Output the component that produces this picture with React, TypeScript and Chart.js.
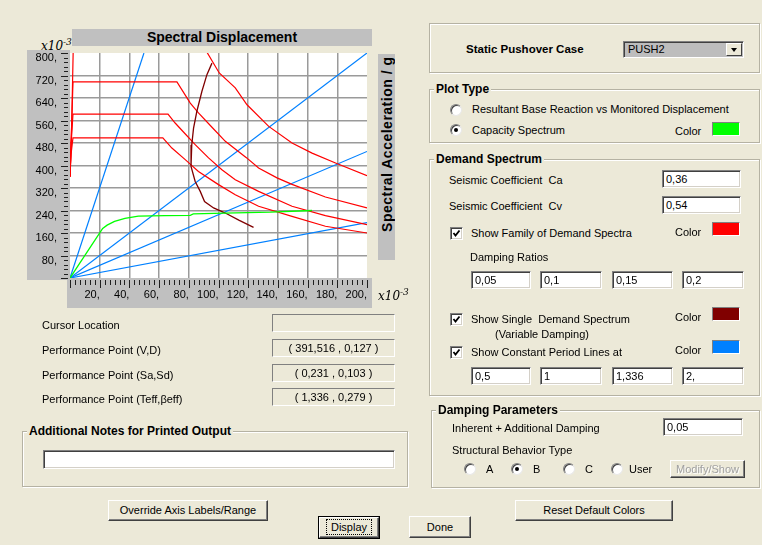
import React, { useEffect, useRef } from "react";
import { Chart, registerables } from "chart.js";

Chart.register(...registerables);

// ---------------- data (Sd and Sa in x10^-3) ----------------
const sdTicks = [0, 20, 40, 60, 80, 100, 120, 140, 160, 180, 200];
const saTicks = [0, 80, 160, 240, 320, 400, 480, 560, 640, 720, 800];

const capacitySd = [0, 22, 25, 30, 37, 46, 64, 81, 83, 104, 135, 163];
const capacitySa = [0, 176, 188, 201, 212, 220, 222, 223, 228, 231, 234, 240];

const demand05Sd = [0, 1.2, 2.5, 81.5, 92.2, 100.5, 111.3, 119.2, 133.8, 149.5, 163, 178.8, 200];
const demand05Sa = [360, 560, 900, 900, 803, 729, 676, 616, 539, 480, 444, 409, 364];

const demand10Sd = [0, 1.0, 2, 72, 81, 86.5, 95.6, 104.6, 119, 127, 139.4, 149.5, 172, 200];
const demand10Sa = [360, 520, 697, 697, 622, 587, 536, 486, 427, 391, 356, 333, 288, 249];

const demand15Sd = [0, 0.8, 2, 66, 70.8, 76.4, 84.3, 93.3, 102.3, 111.3, 127, 149.5, 172, 200];
const demand15Sa = [360, 480, 583, 583, 551, 519, 474, 427, 385, 349, 308, 255, 222, 190];

const demand20Sd = [0, 0.7, 2, 62.5, 68.6, 77.6, 86.5, 100, 111.3, 127, 149.5, 172, 200];
const demand20Sa = [360, 440, 498, 498, 462, 421, 379, 332, 296, 255, 219, 184, 160];

const singleDemandSd = [95.6, 92.2, 88.8, 85.4, 83.2, 82, 81.5, 84.3, 87.7, 90.6, 96.7, 104.6, 114, 123.6];
const singleDemandSa = [764, 723, 663, 592, 533, 474, 397, 343, 308, 272, 249, 231, 205, 180];

const periodNames = ["0,5", "1", "1,336", "2,"];
const periodEndSd = [49.8, 200, 200, 200];
const periodEndSa = [800, 800, 450, 197];

// ---------------- styles ----------------
const BG = "#ECE9D8";
const FONT = '"Liberation Sans", Arial, Helvetica, sans-serif';
const RED = "#FF0000";
const MAROON = "#800000";
const BLUE = "#0080FF";
const GREEN = "#00FF00";

const zip = (xs: number[], ys: number[]) => xs.map((x, i) => ({ x, y: ys[i] }));

const bandsPlugin = {
  id: "bands",
  beforeDraw(chart: any) {
    const { ctx, chartArea: a } = chart;
    ctx.save();
    ctx.fillStyle = "#C0C0C0";
    ctx.fillRect(a.left - 43, a.top - 3, 43, a.bottom - a.top + 5);
    ctx.fillRect(a.left - 3, a.bottom, a.right - a.left + 8, 30);
    ctx.fillStyle = "#FFFFFF";
    ctx.fillRect(a.left, a.top, a.right - a.left, a.bottom - a.top);
    ctx.restore();
  },
  afterDraw(chart: any) {
    const { ctx, chartArea: a, scales } = chart;
    const xs = scales.x;
    const ys = scales.y;
    ctx.save();
    ctx.strokeStyle = "#202020";
    ctx.lineWidth = 1;
    ctx.beginPath();
    for (let i = 0; i <= 50; i++) {
      const v = i * 16;
      const py = Math.round(ys.getPixelForValue(v)) + 0.5;
      const len = i % 5 === 0 ? 7 : 4;
      ctx.moveTo(a.left - 2 - len, py);
      ctx.lineTo(a.left - 2, py);
    }
    for (let i = 0; i <= 60; i++) {
      const v = (i * 20) / 6;
      const px = Math.round(xs.getPixelForValue(v)) + 0.5;
      const len = i % 6 === 0 ? 8 : 5;
      ctx.moveTo(px, a.bottom + 2);
      ctx.lineTo(px, a.bottom + 2 + len);
    }
    ctx.stroke();
    ctx.restore();
  },
};

function SpectrumChart() {
  const ref = useRef<HTMLCanvasElement | null>(null);
  useEffect(() => {
    if (!ref.current) return;
    const line = (data: any[], color: string, width = 1.2) => ({
      data,
      showLine: true,
      borderColor: color,
      backgroundColor: color,
      borderWidth: width,
      pointRadius: 0,
      fill: false,
      tension: 0,
    });
    const datasets: any[] = [
      line(zip(capacitySd, capacitySa), GREEN, 1.3),
      line(zip(singleDemandSd, singleDemandSa), MAROON, 1.3),
      line(zip(demand05Sd, demand05Sa), RED),
      line(zip(demand10Sd, demand10Sa), RED),
      line(zip(demand15Sd, demand15Sa), RED),
      line(zip(demand20Sd, demand20Sa), RED),
      ...periodNames.map((_, i) =>
        line([{ x: 0, y: 0 }, { x: periodEndSd[i], y: periodEndSa[i] }], BLUE)
      ),
    ];
    const gridColor = (max: number) => (c: any) =>
      c.tick && (c.tick.value === 0 || c.tick.value === max) ? "rgba(0,0,0,0)" : "#9A9A9A";
    const chart = new Chart(ref.current, {
      type: "scatter",
      data: { datasets },
      plugins: [bandsPlugin],
      options: {
        animation: false,
        responsive: false,
        maintainAspectRatio: false,
        events: [],
        layout: { padding: { left: 0, top: 28, right: 43, bottom: 12 } },
        plugins: { legend: { display: false }, tooltip: { enabled: false }, title: { display: false } },
        scales: {
          x: {
            type: "linear",
            min: 0,
            max: 200,
            position: "bottom",
            afterBuildTicks: (s: any) => {
              s.ticks = sdTicks.map((v) => ({ value: v }));
            },
            afterFit: (s: any) => {
              s.height = 30;
            },
            border: { display: false },
            grid: { color: gridColor(200), lineWidth: 1.5, drawTicks: false },
            ticks: {
              autoSkip: false,
              maxRotation: 0,
              align: "end",
              padding: 10,
              color: "#000",
              font: { family: FONT, size: 11 },
              callback: (v: any) => (Number(v) === 0 ? "" : v + ","),
            },
          },
          y: {
            type: "linear",
            min: 0,
            max: 800,
            afterBuildTicks: (s: any) => {
              s.ticks = saTicks.map((v) => ({ value: v }));
            },
            afterFit: (s: any) => {
              s.width = 50;
            },
            border: { display: false },
            grid: { color: gridColor(800), lineWidth: 1.5, drawTicks: false },
            ticks: {
              autoSkip: false,
              padding: 13,
              labelOffset: 5,
              color: "#000",
              font: { family: FONT, size: 11 },
              callback: (v: any) => (Number(v) === 0 ? "" : v + ","),
            },
          },
        },
      } as any,
    });
    return () => chart.destroy();
  }, []);
  return (
    <canvas
      ref={ref}
      width={390}
      height={295}
      style={{ position: "absolute", left: 20, top: 25, width: 390, height: 295 }}
    />
  );
}

// ---------------- dialog widgets ----------------
const P = (l: number, t: number, w?: number, h?: number): React.CSSProperties => ({
  position: "absolute",
  left: l,
  top: t,
  width: w,
  height: h,
  boxSizing: "border-box",
});

function Label({ x, cy, text, bold = false, size = 11, color = "#000" }: any) {
  return (
    <div
      style={{
        ...P(x, cy - 8),
        height: 16,
        lineHeight: "16px",
        fontSize: size,
        fontWeight: bold ? 700 : 400,
        color,
        whiteSpace: "pre",
      }}
    >
      {text}
    </div>
  );
}

function Field({ x, y, w, h, value, bg = "#fff", center = false, deep = true }: any) {
  return (
    <div
      style={{
        ...P(x, y, w, h),
        background: bg,
        borderTop: "1px solid #808080",
        borderLeft: "1px solid #808080",
        borderRight: "1px solid #fff",
        borderBottom: "1px solid #fff",
        boxShadow: deep ? "inset 1px 1px 0 #404040, inset -1px -1px 0 #D4D0C8" : "none",
        fontSize: 11,
        lineHeight: h - 2 + "px",
        paddingLeft: center ? 0 : 3,
        textAlign: center ? "center" : "left",
        whiteSpace: "pre",
        overflow: "hidden",
      }}
    >
      {value}
    </div>
  );
}

function Group({ x, y, w, h, title, size = 12 }: any) {
  return (
    <>
      <div
        style={{
          ...P(x, y, w, h),
          border: "1px solid #B5B2A3",
          boxShadow: "inset 1px 1px 0 #fff, 1px 1px 0 #fff",
        }}
      />
      {title && (
        <div
          style={{
            ...P(x + 5, y - 8),
            height: 16,
            lineHeight: "16px",
            padding: "0 2px",
            background: BG,
            fontWeight: 700,
            fontSize: size,
            whiteSpace: "nowrap",
          }}
        >
          {title}
        </div>
      )}
    </>
  );
}

function Radio({ cx, cy, checked = false }: any) {
  return (
    <div
      style={{
        ...P(cx - 6, cy - 6, 12, 12),
        borderRadius: "50%",
        background: "#fff",
        border: "1px solid",
        borderColor: "#808080 #E8E8E8 #E8E8E8 #808080",
        boxShadow: "inset 1px 1px 0 #404040",
      }}
    >
      {checked && (
        <div style={{ ...P(3, 3, 4, 4), borderRadius: "50%", background: "#000" }} />
      )}
    </div>
  );
}

function Check({ cx, cy }: any) {
  return (
    <div
      style={{
        ...P(cx - 6.5, cy - 6.5, 13, 13),
        background: "#fff",
        borderTop: "1px solid #808080",
        borderLeft: "1px solid #808080",
        borderRight: "1px solid #fff",
        borderBottom: "1px solid #fff",
        boxShadow: "inset 1px 1px 0 #404040, inset -1px -1px 0 #D4D0C8",
      }}
    >
      <svg width={11} height={11} style={{ position: "absolute", left: 0, top: 0 }}>
        <path d="M2.5 5 L4.5 7.5 L8.5 2.5" stroke="#000" strokeWidth={1.8} fill="none" />
      </svg>
    </div>
  );
}

function Swatch({ x, y, color }: any) {
  return (
    <div
      style={{
        ...P(x, y, 28, 14),
        background: color,
        borderTop: "1px solid #808080",
        borderLeft: "1px solid #808080",
        borderRight: "1px solid #fff",
        borderBottom: "1px solid #fff",
      }}
    />
  );
}

function Button({ x, y, w, h, label, disabled = false, isDefault = false }: any) {
  const inner = (
    <div
      style={{
        ...P(isDefault ? 1 : 0, isDefault ? 1 : 0, isDefault ? w - 2 : w, isDefault ? h - 2 : h),
        background: BG,
        borderTop: "1px solid #fff",
        borderLeft: "1px solid #fff",
        borderRight: "1px solid #404040",
        borderBottom: "1px solid #404040",
        boxShadow: "inset -1px -1px 0 #808080",
        textAlign: "center",
        fontSize: 11,
        lineHeight: (isDefault ? h - 4 : h - 2) + "px",
        color: disabled ? "#A0A0A0" : "#000",
        textShadow: disabled ? "1px 1px 0 #fff" : "none",
        whiteSpace: "nowrap",
      }}
    >
      {isDefault ? (
        <span style={{ outline: "1px dotted #000", outlineOffset: 1, padding: "0 3px" }}>{label}</span>
      ) : (
        label
      )}
    </div>
  );
  return (
    <div style={{ ...P(x, y, w, h), background: isDefault ? "#000" : "transparent" }}>{inner}</div>
  );
}

function Combo({ x, y, w, h, value }: any) {
  return (
    <div
      style={{
        ...P(x, y, w, h),
        background: "#BDBDBD",
        borderTop: "1px solid #808080",
        borderLeft: "1px solid #808080",
        borderRight: "1px solid #fff",
        borderBottom: "1px solid #fff",
        boxShadow: "inset 1px 1px 0 #404040",
        fontSize: 11,
        lineHeight: h - 2 + "px",
        paddingLeft: 4,
      }}
    >
      {value}
      <div
        style={{
          ...P(w - 19, 1, 16, h - 4),
          background: BG,
          borderTop: "1px solid #fff",
          borderLeft: "1px solid #fff",
          borderRight: "1px solid #404040",
          borderBottom: "1px solid #404040",
        }}
      >
        <div
          style={{
            position: "absolute",
            left: 4,
            top: 4,
            width: 0,
            height: 0,
            borderLeft: "3.5px solid transparent",
            borderRight: "3.5px solid transparent",
            borderTop: "4px solid #000",
          }}
        />
      </div>
    </div>
  );
}

function X10({ x, y }: any) {
  return (
    <div
      style={{
        ...P(x, y),
        fontFamily: '"DejaVu Serif", "Liberation Serif", serif',
        fontStyle: "italic",
        fontSize: 12,
        lineHeight: "14px",
        whiteSpace: "nowrap",
        color: "#000",
      }}
    >
      x10<sup style={{ fontSize: 9, verticalAlign: 5 }}>-3</sup>
    </div>
  );
}

export default function App() {
  return (
    <div
      style={{
        position: "absolute",
        left: 0,
        top: 0,
        width: 762,
        height: 545,
        overflow: "hidden",
        background: BG,
        fontFamily: FONT,
        color: "#000",
      }}
    >
      {/* ------- chart ------- */}
      <X10 x={41} y={35} />
      <SpectrumChart />
      <div
        style={{
          ...P(72, 29, 300, 17),
          background: "#C0C0C0",
          textAlign: "center",
          fontWeight: 700,
          fontSize: 14,
          lineHeight: "17px",
        }}
      >
        Spectral Displacement
      </div>
      <div style={{ ...P(378, 54, 17, 206), background: "#C0C0C0", overflow: "hidden" }}>
        <div
          style={{
            position: "absolute",
            left: (17 - 206) / 2,
            top: (206 - 17) / 2,
            width: 206,
            height: 17,
            lineHeight: "17px",
            transform: "rotate(-90deg)",
            textAlign: "right",
            paddingRight: 2,
            boxSizing: "border-box",
            fontWeight: 700,
            fontSize: 14,
            letterSpacing: 0.5,
            whiteSpace: "nowrap",
          }}
        >
          Spectral Acceleration / g
        </div>
      </div>
      <X10 x={378} y={285} />

      {/* ------- readouts ------- */}
      <Label x={42} cy={325} text="Cursor Location" />
      <Field x={272} y={314} w={123} h={18} value="" bg={BG} deep={false} center />
      <Label x={42} cy={350} text="Performance Point (V,D)" />
      <Field x={272} y={339} w={123} h={18} value="( 391,516 , 0,127 )" bg={BG} deep={false} center />
      <Label x={42} cy={375} text="Performance Point (Sa,Sd)" />
      <Field x={272} y={364} w={123} h={18} value="( 0,231 , 0,103 )" bg={BG} deep={false} center />
      <Label x={42} cy={399} text="Performance Point (Teff,βeff)" />
      <Field x={272} y={388} w={123} h={18} value="( 1,336 , 0,279 )" bg={BG} deep={false} center />

      <Group x={22} y={431} w={386} h={56} title="Additional Notes for Printed Output" size={12} />
      <Field x={43} y={450} w={352} h={19} value="" />

      {/* ------- right panel ------- */}
      <Group x={429} y={23} w={331} h={50} />
      <Label x={466} cy={49} text="Static Pushover Case" bold size={11.5} />
      <Combo x={623} y={41} w={121} h={17} value="PUSH2" />

      <Group x={429} y={89} w={331} h={54} title="Plot Type" />
      <Radio cx={456} cy={109.5} />
      <Label x={472} cy={109} text="Resultant Base Reaction vs Monitored Displacement" />
      <Radio cx={456} cy={130} checked />
      <Label x={472} cy={130} text="Capacity Spectrum" />
      <Label x={675} cy={131} text="Color" />
      <Swatch x={712} y={122} color={GREEN} />

      <Group x={429} y={159} w={331} h={237} title="Demand Spectrum" />
      <Label x={449} cy={180} text="Seismic Coefficient  Ca" />
      <Field x={662} y={170} w={79} h={18} value="0,36" />
      <Label x={449} cy={206} text="Seismic Coefficient  Cv" />
      <Field x={662} y={196} w={79} h={18} value="0,54" />
      <Check cx={456.5} cy={233.5} />
      <Label x={471} cy={233} text="Show Family of Demand Spectra" />
      <Label x={675} cy={232} text="Color" />
      <Swatch x={712} y={222} color={RED} />
      <Label x={470} cy={257} text="Damping Ratios" />
      <Field x={471} y={271} w={60} h={18} value="0,05" />
      <Field x={540} y={271} w={62} h={18} value="0,1" />
      <Field x={612} y={271} w={61} h={18} value="0,15" />
      <Field x={682} y={271} w={62} h={18} value="0,2" />
      <Check cx={456.5} cy={319.5} />
      <Label x={471} cy={318.5} text="Show Single  Demand Spectrum" />
      <Label x={495} cy={334} text="(Variable Damping)" />
      <Label x={675} cy={317} text="Color" />
      <Swatch x={712} y={307} color={MAROON} />
      <Check cx={456.5} cy={352} />
      <Label x={471} cy={351.5} text="Show Constant Period Lines at" />
      <Label x={675} cy={350} text="Color" />
      <Swatch x={712} y={340} color={BLUE} />
      <Field x={471} y={367} w={60} h={18} value={periodNames[0]} />
      <Field x={540} y={367} w={62} h={18} value={periodNames[1]} />
      <Field x={612} y={367} w={61} h={18} value={periodNames[2]} />
      <Field x={682} y={367} w={62} h={18} value={periodNames[3]} />

      <Group x={431} y={410} w={329} h={78} title="Damping Parameters" />
      <Label x={452} cy={428} text="Inherent + Additional Damping" />
      <Field x={663} y={418} w={80} h={18} value="0,05" />
      <Label x={452} cy={450} text="Structural Behavior Type" />
      <Radio cx={470} cy={469} />
      <Label x={486} cy={469} text="A" />
      <Radio cx={517} cy={469} checked />
      <Label x={533} cy={469} text="B" />
      <Radio cx={569} cy={469} />
      <Label x={585} cy={469} text="C" />
      <Radio cx={617} cy={469} />
      <Label x={629} cy={469} text="User" />
      <Button x={670} y={460} w={75} h={18} label="Modify/Show" disabled />

      {/* ------- bottom buttons ------- */}
      <Button x={108} y={500} w={160} h={21} label="Override Axis Labels/Range" />
      <Button x={318} y={516} w={62} h={23} label="Display" isDefault />
      <Button x={409} y={516} w={62} h={22} label="Done" />
      <Button x={515} y={500} w={158} h={21} label="Reset Default Colors" />
    </div>
  );
}
